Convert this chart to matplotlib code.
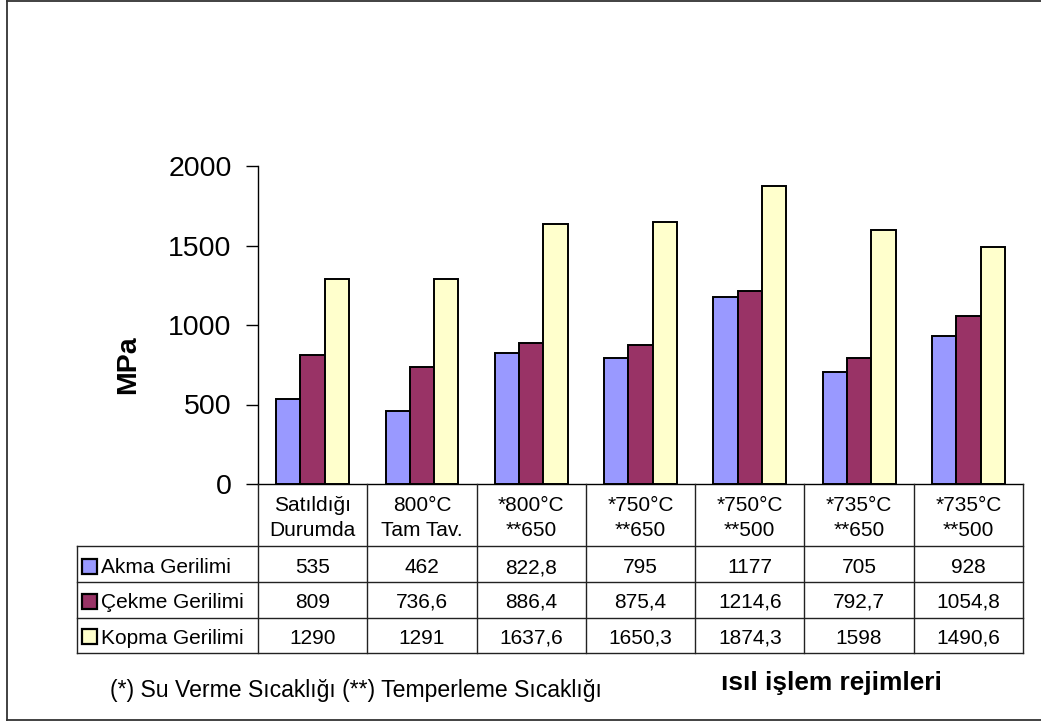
import numpy as np
import matplotlib
matplotlib.use("Agg")
import matplotlib.pyplot as plt
from matplotlib.patches import Rectangle

# --- data -------------------------------------------------------------
categories = [
    ("Satıldığı", "Durumda"),
    ("800°C", "Tam Tav."),
    ("*800°C", "**650"),
    ("*750°C", "**650"),
    ("*750°C", "**500"),
    ("*735°C", "**650"),
    ("*735°C", "**500"),
]
series_names = ["Akma Gerilimi", "Çekme Gerilimi", "Kopma Gerilimi"]
akma = [535, 462, 822.8, 795, 1177, 705, 928]
cekme = [809, 736.6, 886.4, 875.4, 1214.6, 792.7, 1054.8]
kopma = [1290, 1291, 1637.6, 1650.3, 1874.3, 1598, 1490.6]
series_values = [akma, cekme, kopma]
series_colors = ["#9999FF", "#993366", "#FFFFCC"]
y_ticks = [0, 500, 1000, 1500, 2000]

footnote = "(*) Su Verme Sıcaklığı (**) Temperleme Sıcaklığı"
x_title = "ısıl işlem rejimleri"
y_title = "MPa"

# --- figure -----------------------------------------------------------
W, H = 1041, 724
plt.rcParams["font.family"] = ["Liberation Sans", "DejaVu Sans"]

fig = plt.figure(figsize=(W / 100, H / 100), dpi=100)
fig.patch.set_facecolor("white")


def fx(px):
    return px / W


def fy(py):
    return 1 - py / H


left, right, top, base = 258, 1023, 166, 484
ax = fig.add_axes([fx(left), fy(base), fx(right) - fx(left), fy(top) - fy(base)])

n = len(categories)
x = np.arange(n)
w = 1 / 4.5
for k, (vals, col) in enumerate(zip(series_values, series_colors)):
    ax.bar(x + (k - 1) * w, vals, w, color=col, edgecolor="black",
           linewidth=1.4, zorder=3)

ax.set_xlim(-0.5, n - 0.5)
ax.set_ylim(0, 2000)
ax.set_yticks(y_ticks)
ax.set_yticklabels([str(t) for t in y_ticks])
ax.set_xticks([])
ax.tick_params(axis="y", direction="out", length=9, width=1, pad=10,
               labelsize=20.5, colors="black")
for s in ("top", "right"):
    ax.spines[s].set_visible(False)
ax.spines["left"].set_linewidth(1)
ax.spines["bottom"].set_linewidth(1)
ax.set_facecolor("none")

fig.text(fx(128), fy(365), y_title, rotation=90, ha="center", va="center",
         fontsize=20.5, fontweight="bold")

# --- data table -------------------------------------------------------
tab = fig.add_axes([0, 0, 1, 1])
tab.set_xlim(0, W)
tab.set_ylim(H, 0)
tab.axis("off")
tab.patch.set_alpha(0)

cw = (right - left) / n
col_edges = [left + i * cw for i in range(n + 1)]
tbl_left = 77
row_edges = [546, 582, 618, 653]
row_baselines = [573, 608, 643.5]
lc = "#222222"
lw = 1.0

for xe in col_edges:
    tab.plot([xe, xe], [base, row_edges[-1]], color=lc, lw=lw)
tab.plot([tbl_left, tbl_left], [row_edges[0], row_edges[-1]], color=lc, lw=lw)
for ye in row_edges:
    tab.plot([tbl_left, right], [ye, ye], color=lc, lw=lw)

fs = 15
for i, (l1, l2) in enumerate(categories):
    cx = left + (i + 0.5) * cw
    tab.text(cx, 511, l1, ha="center", va="baseline", fontsize=fs)
    tab.text(cx, 536, l2, ha="center", va="baseline", fontsize=fs)


def fmt(v):
    return f"{v:g}".replace(".", ",")


for r, (name, vals, col) in enumerate(zip(series_names, series_values, series_colors)):
    bl = row_baselines[r]
    tab.add_patch(Rectangle((82, bl - 14.5), 15, 15, facecolor=col,
                            edgecolor="black", lw=1.6))
    tab.text(101, bl, name, ha="left", va="baseline", fontsize=fs)
    for i, v in enumerate(vals):
        cx = left + (i + 0.5) * cw
        tab.text(cx, bl, fmt(v), ha="center", va="baseline", fontsize=fs)

# --- notes and frame --------------------------------------------------
tab.text(110, 690, footnote, ha="left", va="center", fontsize=16.6)
tab.text(831, 683, x_title, ha="center", va="center", fontsize=18.9,
         fontweight="bold")

tab.plot([7, 7], [1, 720], color="#333333", lw=1.3)
tab.plot([7, W + 5], [1, 1], color="#333333", lw=1.3)
tab.plot([7, W + 5], [720, 720], color="#333333", lw=1.3)

fig.savefig("out.png", dpi=100, facecolor="white")
